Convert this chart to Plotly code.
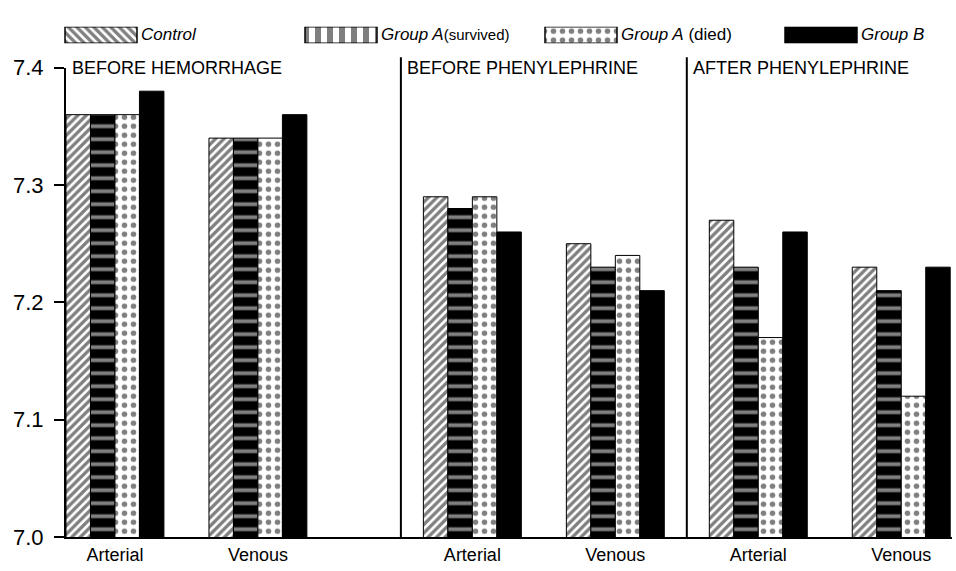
import plotly.graph_objects as go

# ---- data ----
site_labels = ["Arterial", "Venous", "Arterial", "Venous", "Arterial", "Venous"]
panel_titles = ["BEFORE HEMORRHAGE", "BEFORE PHENYLEPHRINE", "AFTER PHENYLEPHRINE"]
series_names = ["Control", "Group A(survived)", "Group A(died)", "Group B"]
control = [7.36, 7.34, 7.29, 7.25, 7.27, 7.23]
group_a_survived = [7.36, 7.34, 7.28, 7.23, 7.23, 7.21]
group_a_died = [7.36, 7.34, 7.29, 7.24, 7.17, 7.12]
group_b = [7.38, 7.36, 7.26, 7.21, 7.26, 7.23]
y_ticks = [7.0, 7.1, 7.2, 7.3, 7.4]
y_ticktext = ["7.0", "7.1", "7.2", "7.3", "7.4"]

# ---- layout helpers (slot positions of each group on the x axis) ----
panel_start = [0, 5, 9]
slots = []
for p in panel_start:
    slots += [p + 1, p + 3]
dividers = panel_start[1:]

FONT = "Liberation Sans"
W, H = 956, 571
B_MARGIN = 34
plot_h = H - B_MARGIN
main_top = (plot_h - 57) / plot_h
leg_dom = [(plot_h - 32) / plot_h, (plot_h - 15) / plot_h]

bar_styles = [
    dict(color="white", pattern=dict(shape="/", fgcolor="black", bgcolor="white", size=6, solidity=0.55)),
    dict(color="black", pattern=dict(shape="-", fgcolor="white", bgcolor="black", size=13, solidity=0.3)),
    dict(color="white", pattern=dict(shape=".", fgcolor="black", bgcolor="white", size=9, solidity=0.3)),
    dict(color="black"),
]
legend_styles = [
    dict(color="white", pattern=dict(shape="\\", fgcolor="black", bgcolor="white", size=6, solidity=0.55)),
    dict(color="white", pattern=dict(shape="|", fgcolor="black", bgcolor="white", size=12, solidity=0.5)),
    dict(color="white", pattern=dict(shape=".", fgcolor="black", bgcolor="white", size=9, solidity=0.3)),
    dict(color="black"),
]
legend_texts = [
    "<i>Control</i>",
    "<i>Group A</i><span style='font-size:15px'>(survived)</span>",
    "<i>Group A</i> (died)",
    "<i>Group B</i>",
]

series = [control, group_a_survived, group_a_died, group_b]

fig = go.Figure()
for name, vals, st in zip(series_names, series, bar_styles):
    fig.add_trace(go.Bar(
        x=slots, y=vals, name=name, showlegend=False,
        marker=dict(line=dict(color="black", width=1), **st),
        xaxis="x", yaxis="y",
    ))

for i, (name, st) in enumerate(zip(series_names, legend_styles)):
    fig.add_trace(go.Bar(
        x=[i], y=[1], base=0, width=0.3, offset=-0.15, showlegend=False,
        marker=dict(line=dict(color="black", width=1.5), **st),
        xaxis="x2", yaxis="y2", hoverinfo="skip",
    ))

annotations = []
for i, t in enumerate(legend_texts):
    annotations.append(dict(x=i + 0.16, y=0.5, xref="x2", yref="y2", text=t,
                            showarrow=False, xanchor="left", yanchor="middle",
                            font=dict(family=FONT, size=17, color="black")))
title_x = [0.315, dividers[0], dividers[1]]
for x, t in zip(title_x, panel_titles):
    annotations.append(dict(x=x, y=main_top, xref="x", yref="paper", text=t,
                            showarrow=False, xanchor="left", yanchor="middle", xshift=4,
                            font=dict(family=FONT, size=18, color="black")))

shapes = [dict(type="line", xref="x", yref="paper", x0=d, x1=d, y0=0, y1=main_top + 0.02,
               line=dict(color="black", width=2)) for d in dividers]

x_lo, x_hi = 66, 952
fig.update_layout(
    width=W, height=H,
    margin=dict(l=0, r=0, t=0, b=B_MARGIN),
    paper_bgcolor="white", plot_bgcolor="white",
    barmode="group", bargap=0.315, bargroupgap=0,
    font=dict(family=FONT, color="black"),
    xaxis=dict(domain=[x_lo / W, x_hi / W], range=[0.315, 12.71],
               tickmode="array", tickvals=slots, ticktext=site_labels,
               ticks="", showline=True, linecolor="black", linewidth=2,
               showgrid=False, zeroline=False,
               tickfont=dict(family=FONT, size=18, color="black")),
    yaxis=dict(domain=[0, main_top], range=[7.0, 7.4],
               tickmode="array", tickvals=y_ticks, ticktext=y_ticktext,
               ticks="outside", ticklen=10, tickwidth=2, tickcolor="black",
               ticklabelstandoff=6,
               showline=True, linecolor="black", linewidth=2,
               showgrid=False, zeroline=False,
               tickfont=dict(family=FONT, size=22, color="black")),
    xaxis2=dict(domain=[0, 1], range=[-101 / 240, 855 / 240], visible=False),
    yaxis2=dict(domain=leg_dom, range=[0, 1], visible=False),
    annotations=annotations,
    shapes=shapes,
)

fig.write_html(
    "out.html",
    config={"displayModeBar": False},
    post_script="document.body.style.margin='0';document.body.style.overflow='hidden';",
)
